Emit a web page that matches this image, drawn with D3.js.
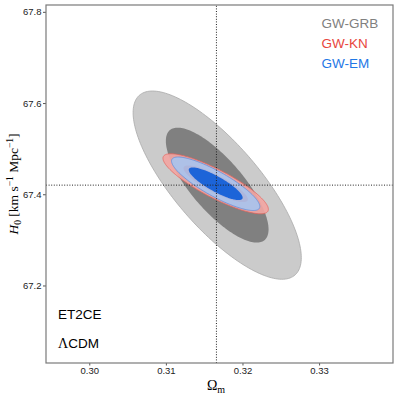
<!DOCTYPE html>
<html>
<head>
<meta charset="utf-8">
<script src="https://cdn.jsdelivr.net/npm/d3@7"></script>
<style>
  body { margin: 0; background: #fff; }
  svg { display: block; }
</style>
</head>
<body>
<svg id="chart"></svg>
<script>
// contour data (gaussian approximations)
let names = ["GW-GRB", "GW-KN", "GW-EM"]
let omMean = [0.3167, 0.3165, 0.3165]
let h0Mean = [67.420, 67.423, 67.423]
let omSigma = [0.00442, 0.00277, 0.00232]
let h0Sigma = [0.0831, 0.0265, 0.0236]
let rho = [-0.77, -0.85, -0.85]
let levels = [6.17, 2.30] // 95%, 68%

let omFid = 0.3166
let h0Fid = 67.42

let xTicks = [0.30, 0.31, 0.32, 0.33]
let yTicks = [67.2, 67.4, 67.6, 67.8]

let textColors = ["#808080", "#e8463e", "#1f78e6"]
let outerFill = ["#cbcbcb", "#f4a6a3", "#a7c6f2"]
let outerStroke = ["#a9a9a9", "#e8625b", "#4f90e8"]
let innerFill = ["#808080", "#e8463e", "#1c64d8"]
let outerAlpha = [1, 0.9, 0.88]
let innerAlpha = [1, 1, 1]

let w = 399
let h = 398
let margin = {top: 5, right: 6, bottom: 35, left: 46}

let svg = d3.select("#chart").attr("width", w).attr("height", h)

let xScale = d3.scaleLinear()
               .domain([0.29435, 0.33965])
               .range([margin.left, w - margin.right])

let yScale = d3.scaleLinear()
               .domain([67.030, 67.815])
               .range([h - margin.bottom, margin.top])

let ellipse = (i, k) => {
  let s = Math.sqrt(k)
  let pts = d3.range(0, 2 * Math.PI, Math.PI / 90).map((t) => {
    let om = omMean[i] + omSigma[i] * s * Math.cos(t)
    let hh = h0Mean[i] + h0Sigma[i] * s * (rho[i] * Math.cos(t) + Math.sqrt(1 - rho[i] * rho[i]) * Math.sin(t))
    return [om, hh]
  })
  return d3.line()
           .x((d) => xScale(d[0]))
           .y((d) => yScale(d[1]))
           .curve(d3.curveLinearClosed)(pts)
}

let plot = svg.append("g")

names.forEach((n, i) => {
  plot.append("path")
   .attr("d", ellipse(i, levels[0]))
   .attr("fill", outerFill[i])
   .attr("opacity", outerAlpha[i])
   .attr("stroke", outerStroke[i])
   .attr("stroke-width", 0.8)
  plot.append("path")
   .attr("d", ellipse(i, levels[1]))
   .attr("fill", innerFill[i])
   .attr("opacity", innerAlpha[i])
})

// fiducial lines
svg.append("line")
   .attr("x1", xScale(omFid)).attr("x2", xScale(omFid))
   .attr("y1", yScale.range()[0]).attr("y2", yScale.range()[1])
   .attr("stroke", "#222").attr("stroke-width", 1)
   .attr("stroke-dasharray", "1,1.6")

svg.append("line")
   .attr("x1", xScale.range()[0]).attr("x2", xScale.range()[1])
   .attr("y1", yScale(h0Fid)).attr("y2", yScale(h0Fid))
   .attr("stroke", "#222").attr("stroke-width", 1)
   .attr("stroke-dasharray", "1,1.6")

// axes
let xAxis = d3.axisBottom(xScale).tickValues(xTicks).tickFormat(d3.format(".2f"))
              .tickSizeInner(2.5).tickSizeOuter(0).tickPadding(1.5)
let yAxis = d3.axisLeft(yScale).tickValues(yTicks).tickFormat(d3.format(".1f"))
              .tickSizeInner(3).tickSizeOuter(0).tickPadding(1.5)

let gx = svg.append("g")
   .attr("transform", "translate(0," + (h - margin.bottom) + ")")
   .call(xAxis)
let gy = svg.append("g")
   .attr("transform", "translate(" + margin.left + ",0)")
   .call(yAxis)

;[gx, gy].forEach((g) => {
  g.select(".domain").remove()
  g.selectAll(".tick line").attr("stroke", "#555")
  g.selectAll(".tick text")
   .attr("fill", "#222")
   .style("font-family", "'Liberation Sans', Arial, sans-serif")
   .style("font-size", "9.5px")
})

svg.append("rect")
   .attr("x", margin.left)
   .attr("y", margin.top)
   .attr("width", w - margin.left - margin.right)
   .attr("height", h - margin.top - margin.bottom)
   .attr("fill", "none")
   .attr("stroke", "#7a7a7a")
   .attr("stroke-width", 1.2)

// legend
svg.selectAll(".legend")
   .data(names)
   .enter()
   .append("text")
   .attr("class", "legend")
   .attr("x", 321.5)
   .attr("y", (d, i) => 27.5 + i * 20)
   .attr("fill", (d, i) => textColors[i])
   .style("font-family", "'Liberation Sans', Arial, sans-serif")
   .style("font-size", "13.5px")
   .text((d) => d)

// annotations
svg.append("text")
   .attr("x", 58).attr("y", 319)
   .style("font-family", "'Liberation Sans', Arial, sans-serif")
   .style("font-size", "13.5px")
   .text("ET2CE")

let cdm = svg.append("text")
   .attr("x", 58).attr("y", 348)
   .style("font-family", "'Liberation Sans', Arial, sans-serif")
   .style("font-size", "13.5px")
cdm.append("tspan").style("font-family", "'Liberation Serif', serif").style("font-size", "14px").text("Λ")
cdm.append("tspan").text("CDM")

// axis labels
let ylab = svg.append("text")
   .attr("transform", "translate(18," + ((h - margin.bottom + margin.top) / 2) + ") rotate(-90)")
   .attr("text-anchor", "middle")
   .style("font-family", "'Liberation Serif', 'DejaVu Serif', serif")
   .style("font-size", "13.5px")
ylab.append("tspan").style("font-style", "italic").text("H")
ylab.append("tspan").attr("dy", 3).style("font-size", "9.5px").text("0")
ylab.append("tspan").attr("dy", -3).text(" [km s")
ylab.append("tspan").attr("dy", -5).style("font-size", "9.5px").text("−1")
ylab.append("tspan").attr("dy", 5).text(" Mpc")
ylab.append("tspan").attr("dy", -5).style("font-size", "9.5px").text("−1")
ylab.append("tspan").attr("dy", 5).text("]")

let xlab = svg.append("text")
   .attr("x", 216).attr("y", 390)
   .attr("text-anchor", "middle")
   .style("font-family", "'Liberation Serif', 'DejaVu Serif', serif")
   .style("font-size", "14px")
xlab.append("tspan").text("Ω")
xlab.append("tspan").attr("dy", 3).style("font-size", "10px").text("m")
</script>
</body>
</html>
